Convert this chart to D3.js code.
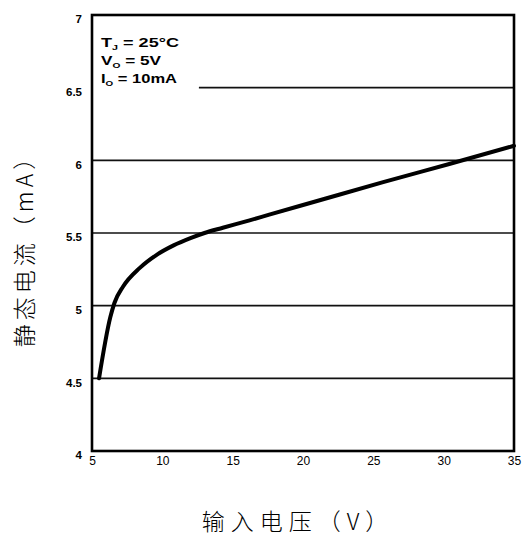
<!DOCTYPE html>
<html>
<head>
<meta charset="utf-8">
<script src="https://cdn.jsdelivr.net/npm/d3@7"></script>
<style>
  body { margin: 0; background: #fff; }
  svg { display: block; }
</style>
</head>
<body>
<div id="chart"></div>
<script>
// 静态电流 vs 输入电压 曲线

const width = 531, height = 539;
const margin = { top: 15, right: 17, bottom: 88, left: 92 };

// dữ liệu
const vin = [5.5, 6.3, 6.6, 7.2, 8.4, 9.6, 10.8, 12, 13, 14.3, 16.2, 17.6, 21, 25.7, 30.4, 35];
const iq  = [4.5, 4.92, 5.02, 5.13, 5.26, 5.35, 5.415, 5.465, 5.5, 5.536, 5.587, 5.626, 5.72, 5.85, 5.975, 6.1];
const xTicks = [5, 10, 15, 20, 25, 30, 35];
const yTicks = [4, 4.5, 5, 5.5, 6, 6.5, 7];
const gridFull = [4.5, 5, 5.5, 6];
const gridPart = [6.5];
const notes = [["T", "J", " = 25°C"], ["V", "O", " = 5V"], ["I", "O", " = 10mA"]];

const svg = d3.select("#chart")
  .append("svg")
  .attr("width", width)
  .attr("height", height);

const x = d3.scaleLinear().domain([5, 35]).range([margin.left, width - margin.right]);
const y = d3.scaleLinear().domain([4, 7]).range([height - margin.bottom, margin.top]);

// gridlines
svg.append("g")
  .selectAll("line")
  .data(gridFull)
  .join("line")
  .attr("x1", x(5)).attr("x2", x(35))
  .attr("y1", d => y(d)).attr("y2", d => y(d))
  .attr("stroke", "#111")
  .attr("stroke-width", 1.6);

svg.append("g")
  .selectAll("line")
  .data(gridPart)
  .join("line")
  .attr("x1", x(12.6)).attr("x2", x(35))
  .attr("y1", d => y(d)).attr("y2", d => y(d))
  .attr("stroke", "#111")
  .attr("stroke-width", 1.6);

// khung
svg.append("rect")
  .attr("x", x(5)).attr("y", y(7))
  .attr("width", x(35) - x(5))
  .attr("height", y(4) - y(7))
  .attr("fill", "none")
  .attr("stroke", "#000")
  .attr("stroke-width", 2.6);

// trục Y
const yAxis = svg.append("g")
  .attr("transform", `translate(${x(5) - 7},4)`)
  .call(d3.axisLeft(y).tickValues(yTicks).tickSize(0).tickFormat(d => d));
yAxis.select(".domain").remove();
yAxis.selectAll("text")
  .attr("font-family", "Liberation Sans, Arial, sans-serif")
  .attr("font-weight", "bold")
  .attr("font-size", "11.5px")
  .attr("fill", "#000");

// trục X
const xAxis = svg.append("g")
  .attr("transform", `translate(0,${y(4) + 2})`)
  .call(d3.axisBottom(x).tickValues(xTicks).tickSize(0));
xAxis.select(".domain").remove();
xAxis.selectAll("text")
  .attr("font-family", "Liberation Sans, Arial, sans-serif")
  .attr("font-size", "12px")
  .attr("fill", "#000");

// đường cong
const pts = vin.map((v, i) => ({ v, i: iq[i] }));
const line = d3.line()
  .x(d => x(d.v))
  .y(d => y(d.i))
  .curve(d3.curveMonotoneX);

svg.append("path")
  .datum(pts)
  .attr("fill", "none")
  .attr("stroke", "#000")
  .attr("stroke-width", 4)
  .attr("stroke-linecap", "round")
  .attr("d", line);

// chú thích điều kiện
const note = svg.append("g")
  .attr("font-family", "Liberation Sans, Arial, sans-serif")
  .attr("font-weight", "bold")
  .attr("font-size", "13.5px")
  .attr("fill", "#000");

notes.forEach((n, k) => {
  const t = note.append("text")
    .attr("x", x(5) + 9)
    .attr("y", y(7) + 32 + k * 18)
    .attr("textLength", k === 2 ? 76 : k === 0 ? 78 : 60)
    .attr("lengthAdjust", "spacingAndGlyphs");
  t.append("tspan").text(n[0]);
  t.append("tspan").attr("font-size", "8px").attr("dy", 3).text(n[1]);
  t.append("tspan").attr("dy", -3).text(n[2]);
});

// tiêu đề trục
svg.append("text")
  .attr("transform", `translate(33,${(y(4) + y(7)) / 2 + 12}) rotate(-90)`)
  .attr("text-anchor", "middle")
  .attr("font-family", "Noto Sans CJK SC, sans-serif")
  .attr("font-weight", 300)
  .attr("font-size", "23px")
  .attr("letter-spacing", "4px")
  .text("静态电流（mA）");

svg.append("text")
  .attr("x", 298)
  .attr("y", 530)
  .attr("text-anchor", "middle")
  .attr("font-family", "Noto Sans CJK SC, sans-serif")
  .attr("font-weight", 300)
  .attr("font-size", "23px")
  .attr("letter-spacing", "6px")
  .text("输入电压（V）");
</script>
</body>
</html>
